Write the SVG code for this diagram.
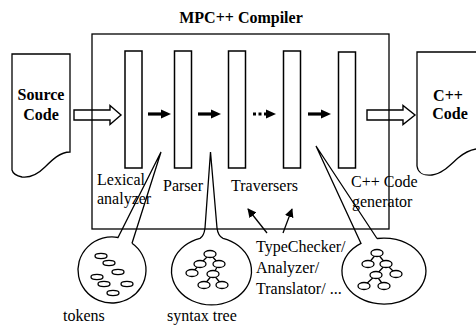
<svg xmlns="http://www.w3.org/2000/svg" width="476" height="326" viewBox="0 0 476 326">
<style>
.ln{fill:none;stroke:#000;stroke-width:1.3}
.col{fill:#fff;stroke:#000;stroke-width:1.5}
.t{font-family:"Liberation Serif","Times New Roman",serif;font-size:16px;fill:#000}
.b{font-weight:bold}
.nd{fill:#fff;stroke:#000;stroke-width:1.3}
.hollow{fill:none;stroke:#000;stroke-width:1.4;stroke-linejoin:miter}
</style>
<defs>
<marker id="ah" viewBox="0 0 10 10" refX="9" refY="5" markerWidth="9" markerHeight="9" markerUnits="userSpaceOnUse" orient="auto">
<path d="M0,0 L10,5 L0,10 Z" fill="#000"/>
</marker>
<g id="sarrow"><path d="M0,0 H15" stroke="#000" stroke-width="3.2"/><path d="M13,-4.5 L23,0 L13,4.5 Z" fill="#000"/></g>
<g id="darrow"><path d="M0,0 H15" stroke="#000" stroke-width="3.2" stroke-dasharray="3,2.5"/><path d="M13,-4.5 L23,0 L13,4.5 Z" fill="#000"/></g>
</defs>
<rect width="476" height="326" fill="#fff"/>
<text class="t b" x="241" y="23" text-anchor="middle">MPC++ Compiler</text>

<g id="compiler">
<rect class="ln" x="92" y="34" width="297" height="195"/>
</g>

<g id="source-code">
<path class="ln" d="M12,54 H70 V152 C60,152 52,160 45,167 C38,174 30,178 22,177 C17,176 13,174 12,170 Z"/>
<text class="t b" x="41" y="100" text-anchor="middle">Source</text>
<text class="t b" x="41" y="120" text-anchor="middle">Code</text>
</g>

<g id="cpp-code">
<path class="ln" d="M476,52 H417 V166 C418,173 424,176 432,175 C442,174 450,165 458,158 C464,153 470,150 476,149"/>
<text class="t b" x="448" y="101" text-anchor="middle">C++</text>
<text class="t b" x="450" y="119" text-anchor="middle">Code</text>
</g>

<g id="lexical-analyzer">
<rect class="col" x="125" y="51" width="17" height="117"/>
<text class="t" x="97" y="185">Lexical</text>
<text class="t" x="97" y="204">analyzer</text>
</g>
<g id="parser">
<rect class="col" x="174.5" y="51" width="17" height="117"/>
<text class="t" x="163" y="191">Parser</text>
</g>
<g id="traverser-1">
<rect class="col" x="228.5" y="51" width="17" height="117"/>
</g>
<g id="traverser-2">
<rect class="col" x="283.5" y="51" width="17" height="117"/>
<text class="t" x="231" y="191">Traversers</text>
</g>
<g id="cpp-generator">
<rect class="col" x="338.5" y="52" width="17" height="116"/>
<text class="t" x="351" y="187">C++ Code</text>
<text class="t" x="352" y="207">generator</text>
</g>

<g id="typechecker">
<text class="t" x="256" y="252">TypeChecker/</text>
<text class="t" x="256" y="273">Analyzer/</text>
<text class="t" x="256" y="294">Translator/ ...</text>
</g>

<g id="tokens-bubble">
<path class="ln" d="M132,243.3 L161,152 L118,237.5 A34,33 0 1 0 132,243.3"/>
<g class="nd">
<ellipse cx="101" cy="256" rx="6" ry="2.6"/>
<ellipse cx="109" cy="263" rx="6" ry="2.6"/>
<ellipse cx="118" cy="272" rx="6" ry="2.6"/>
<ellipse cx="97" cy="277" rx="6" ry="2.6"/>
<ellipse cx="104" cy="284" rx="6" ry="2.6"/>
<ellipse cx="127" cy="284" rx="6" ry="2.6"/>
<ellipse cx="113" cy="293" rx="6" ry="2.6"/>
</g>
<text class="t" x="63" y="321">tokens</text>
</g>

<g id="syntax-tree-bubble">
<path class="ln" d="M223,238.4 Q218,236 217,228 L210.5,152 L205,228 Q204,236 200,238.4 A40,34 0 1 0 223,238.4"/>
<path class="ln" d="M210,254 L200,264 M210,254 L219,264 M200,264 L192,273 M219,264 L213,274 M213,274 L204,285 M213,274 L222,285"/>
<g class="nd">
<ellipse cx="210" cy="254" rx="6" ry="3.5"/>
<ellipse cx="200" cy="264" rx="6" ry="3.5"/>
<ellipse cx="219" cy="264" rx="6" ry="3.5"/>
<ellipse cx="192" cy="273" rx="6" ry="3.5"/>
<ellipse cx="213" cy="274" rx="6" ry="3.5"/>
<ellipse cx="204" cy="285" rx="6" ry="3.5"/>
<ellipse cx="222" cy="285" rx="6" ry="3.5"/>
</g>
<text class="t" x="167" y="321">syntax tree</text>
</g>

<g id="transformed-tree-bubble">
<path class="ln" d="M377,238.5 L316,146 L361,243.4 A42,33 0 1 0 377,238.5"/>
<path class="ln" d="M377,253 L368,264 M377,253 L386,264 M386,264 L396,274 M386,264 L376,275 M376,275 L364,286 M376,275 L384,286"/>
<g class="nd">
<ellipse cx="377" cy="253" rx="6" ry="3.5"/>
<ellipse cx="368" cy="264" rx="6" ry="3.5"/>
<ellipse cx="386" cy="264" rx="6" ry="3.5"/>
<ellipse cx="396" cy="274" rx="6" ry="3.5"/>
<ellipse cx="376" cy="275" rx="6" ry="3.5"/>
<ellipse cx="364" cy="286" rx="6" ry="3.5"/>
<ellipse cx="384" cy="286" rx="6" ry="3.5"/>
</g>
</g>

<g id="connectors">
<path class="hollow" d="M74,110 H110 V105.5 L121,115 L110,124.5 V120 H74 Z"/>
<path class="hollow" d="M367,110 H403 V105.5 L415,115 L403,124.5 V120 H367 Z"/>
<use href="#sarrow" x="148" y="114"/>
<use href="#sarrow" x="198" y="114"/>
<use href="#darrow" x="253" y="114"/>
<use href="#sarrow" x="308" y="114"/>
<path class="ln" d="M267,233 L248,209" marker-end="url(#ah)"/>
<path class="ln" d="M283,233 L292,209" marker-end="url(#ah)"/>
</g>
</svg>
